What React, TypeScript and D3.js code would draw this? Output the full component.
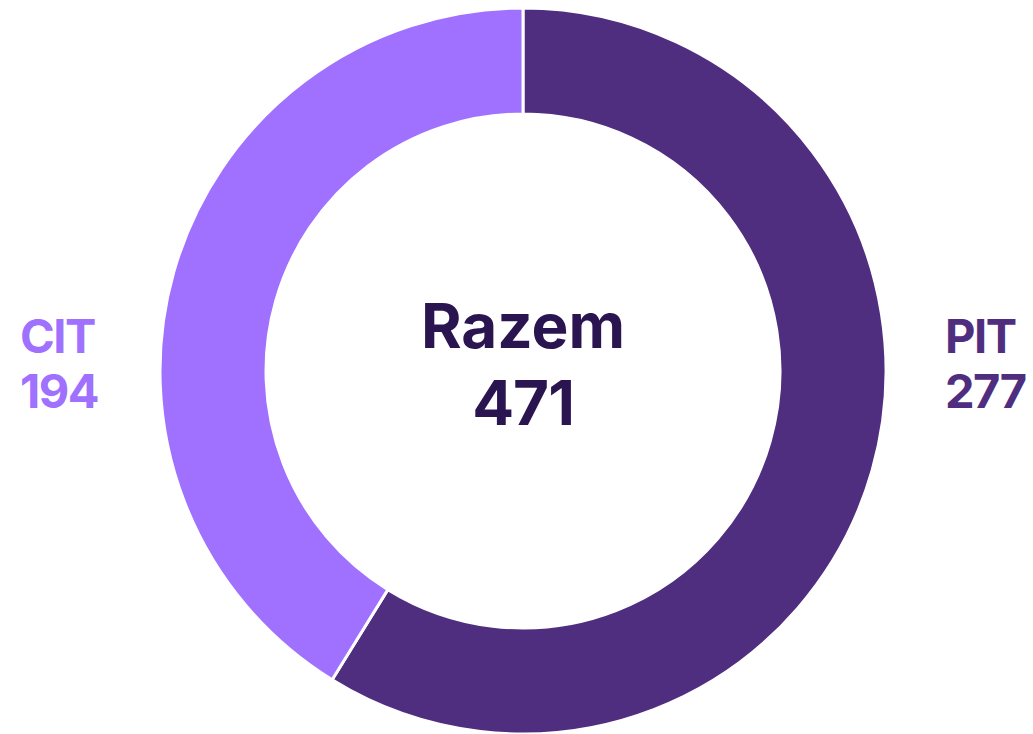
import React from "react";
import * as d3 from "d3";

const categories = ["PIT", "CIT"];
const values = [277, 194];
const colors = ["#4f2d7f", "#a070ff"];
const totalLabel = "Razem";

const W = 1033;
const H = 734;

export default function App() {
  const cx = 523;
  const cy = 371;
  const outerR = 363;
  const innerR = 257;
  const total = d3.sum(values);
  const pie = d3.pie<number>().sort(null).value((d) => d);
  const arcs = pie(values);
  const arcGen = d3.arc<d3.PieArcDatum<number>>().innerRadius(innerR).outerRadius(outerR);
  const font = "Inter, 'Noto Sans', sans-serif";
  return (
    <svg width={W} height={H} style={{ position: "absolute", left: 0, top: 0 }} fontFamily={font}>
      <g transform={`translate(${cx},${cy})`}>
        {arcs.map((a, i) => (
          <path key={categories[i]} d={arcGen(a) || ""} fill={colors[i]} stroke="#fff" strokeWidth={3} />
        ))}
        <text y={-23} textAnchor="middle" fontSize={62} fontWeight={700} fill="#2b1550">{totalLabel}</text>
        <text y={54} textAnchor="middle" fontSize={62} fontWeight={700} fill="#2b1550" letterSpacing={-1}>{total}</text>
      </g>
      <text x={945} y={353} fontSize={47} fontWeight={700} fill={colors[0]} letterSpacing={-1.5}>{categories[0]}</text>
      <text x={945} y={408} fontSize={47} fontWeight={700} fill={colors[0]} letterSpacing={-1.5}>{values[0]}</text>
      <text x={20} y={353} fontSize={47} fontWeight={700} fill={colors[1]} letterSpacing={-1.5}>{categories[1]}</text>
      <text x={20} y={408} fontSize={47} fontWeight={700} fill={colors[1]} letterSpacing={-1.5}>{values[1]}</text>
    </svg>
  );
}
